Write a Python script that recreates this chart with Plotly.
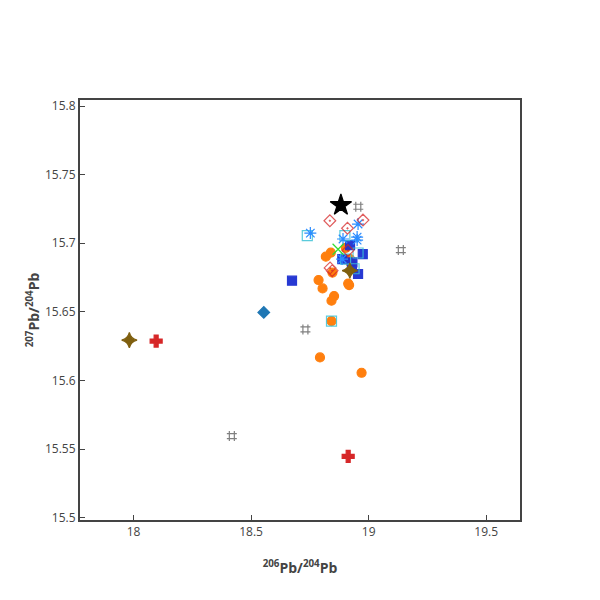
import plotly.graph_objects as go

## Pb isotope ratios (206Pb/204Pb, 207Pb/204Pb)

orange_x = [18.839, 18.818, 18.903, 18.924, 18.921, 18.846, 18.787, 18.804, 18.917, 18.913,
            18.853, 18.842, 18.842, 18.793, 18.970]
orange_y = [15.6931, 15.6902, 15.6967, 15.6856, 15.6885, 15.6786, 15.6732, 15.6671, 15.6695, 15.6706,
            15.6615, 15.6581, 15.6433, 15.6168, 15.6056]

blue_sq_x = [18.921, 18.975, 18.888, 18.931, 18.929, 18.955, 18.674]
blue_sq_y = [15.6987, 15.6920, 15.6885, 15.6860, 15.6841, 15.6776, 15.6727]

cyan_sq_x = [18.739, 18.899, 18.955, 18.902, 18.938, 18.842]
cyan_sq_y = [15.7056, 15.7055, 15.6929, 15.6885, 15.6814, 15.6433]

aster_x = [18.752, 18.955, 18.951, 18.951, 18.891, 18.887]
aster_y = [15.7074, 15.7140, 15.7045, 15.7023, 15.7031, 15.6885]

red_dia_x = [18.835, 18.910, 18.976, 18.836, 18.845, 18.912]
red_dia_y = [15.7164, 15.7109, 15.7169, 15.6820, 15.6800, 15.6947]

green_x_x = [18.870]
green_x_y = [15.6956]

olive_x = [17.982, 18.920]
olive_y = [15.6294, 15.6800]

cross_x = [18.096, 18.913]
cross_y = [15.6287, 15.5447]

blue_dia_x = [18.554]
blue_dia_y = [15.6496]

hash_x = [18.956, 19.137, 18.731, 18.418]
hash_y = [15.7266, 15.6950, 15.6372, 15.5595]

star_x = [18.882]
star_y = [15.7278]

# (x, y, symbol, colour, size, opacity) in drawing order
groups = [
    (orange_x, orange_y, "circle", "#ff7f0e", 9, 1.0),
    (blue_sq_x, blue_sq_y, "square", "#1c2fd1", 9, 0.95),
    (cyan_sq_x, cyan_sq_y, "square-open", "#3ec3d6", 10, 0.85),
    (aster_x, aster_y, "asterisk-open", "#2b8cff", 10, 1.0),
    (red_dia_x, red_dia_y, "diamond-open-dot", "#d62728", 9, 0.75),
    (green_x_x, green_x_y, "x-thin-open", "#33dd33", 11, 1.0),
    (olive_x, olive_y, "star-diamond", "#7f5f0f", 11, 1.0),
    (cross_x, cross_y, "cross", "#d62728", 10, 1.0),
    (blue_dia_x, blue_dia_y, "diamond", "#1f77b4", 9, 1.0),
    (hash_x, hash_y, "hash-open", "#808080", 10, 1.0),
    (star_x, star_y, "star", "#000000", 16, 1.0),
]

fig = go.Figure()
for gx, gy, sym, col, size, op in groups:
    fig.add_trace(go.Scatter(
        x=gx, y=gy, mode="markers", opacity=op,
        marker=dict(symbol=sym, color=col, size=size, line=dict(color=col, width=1.2)),
        showlegend=False,
    ))

axis_style = dict(
    showline=True, linecolor="#444", linewidth=2, mirror=True,
    ticks="inside", ticklen=5, tickcolor="#444",
    showgrid=False, zeroline=False,
    tickfont=dict(size=12, color="#444"),
)

# page body adds an 8px offset, so margins are shifted to keep the plot box in place
fig.update_layout(
    template="none",
    width=600, height=600,
    margin=dict(l=72, r=88, t=92, b=88),
    plot_bgcolor="white", paper_bgcolor="white",
    font=dict(family="Open Sans", color="#444"),
    xaxis=dict(title=dict(text="<b><sup>206</sup>Pb/<sup>204</sup>Pb</b>", font=dict(size=14)),
               range=[17.772, 19.644], tickvals=[18, 18.5, 19, 19.5], **axis_style),
    yaxis=dict(title=dict(text="<b><sup>207</sup>Pb/<sup>204</sup>Pb</b>", font=dict(size=14)),
               range=[15.4983, 15.8044], tickvals=[15.5, 15.55, 15.6, 15.65, 15.7, 15.75, 15.8],
               **axis_style),
)

fig.write_html("out.html")
